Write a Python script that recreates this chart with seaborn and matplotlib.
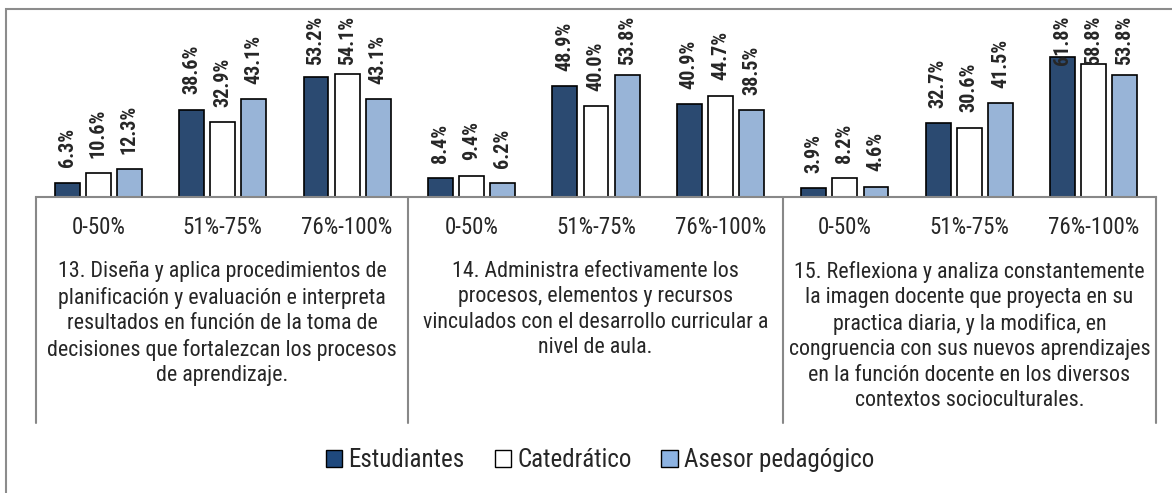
import pandas as pd
import seaborn as sns
from matplotlib import pyplot as plt
from matplotlib.lines import Line2D
from matplotlib.patches import Rectangle, Patch

# ---- data ----
groups = ['13. Diseña y aplica procedimientos de\nplanificación y evaluación e interpreta\nresultados en función de la toma de\ndecisiones que fortalezcan los procesos\nde aprendizaje.',
          '14. Administra efectivamente los\nprocesos, elementos y recursos\nvinculados con el desarrollo curricular a\nnivel de aula.',
          '15. Reflexiona y analiza constantemente\nla imagen docente que proyecta en su\npractica diaria, y la modifica, en\ncongruencia con sus nuevos aprendizajes\nen la función docente en los diversos\ncontextos socioculturales.']
ranges = ['0-50%', '51%-75%', '76%-100%']
series = ['Estudiantes', 'Catedrático', 'Asesor pedagógico']
estudiantes = [6.3, 38.6, 53.2, 8.4, 48.9, 40.9, 3.9, 32.7, 61.8]
catedratico = [10.6, 32.9, 54.1, 9.4, 40.0, 44.7, 8.2, 30.6, 58.8]
asesor = [12.3, 43.1, 43.1, 6.2, 53.8, 38.5, 4.6, 41.5, 53.8]
colors = ['#1F497D', '#FFFFFF', '#8DB3E2']

sns.set_style('white')
plt.rcParams['font.family'] = ['Roboto Condensed', 'DejaVu Sans']

keys = [str(g) + '|' + r for g in range(3) for r in ranges]
df = pd.DataFrame({'cat': keys * 3,
                   'serie': [s for s in series for _ in keys],
                   'valor': estudiantes + catedratico + asesor})

W, H = 1172, 493
fig = plt.figure(figsize=(W / 100, H / 100), dpi=100)
def fx(x): return x / W
def fy(y): return 1 - y / H

ax = fig.add_axes([fx(36), fy(197), fx(1156) - fx(36), fy(12) - fy(197)])
sns.barplot(data=df, x='cat', y='valor', hue='serie', order=keys, hue_order=series,
            palette=colors, width=0.75, gap=0.2, edgecolor='black', linewidth=1.2,
            ax=ax, legend=False)
ax.set_ylim(0, 185 / 2.265)
ax.set_xlim(-0.5, 8.5)
ax.set_xticks([]); ax.set_yticks([])
ax.set_xlabel(''); ax.set_ylabel('')
for s in ['top', 'left', 'right']:
    ax.spines[s].set_visible(False)
ax.spines['bottom'].set_color('#888888')
ax.spines['bottom'].set_linewidth(1.5)

# value labels, pushed down when they would leave the chart area
labs = []
for cont in ax.containers:
    for bar in cont:
        v = bar.get_height()
        t = ax.annotate(f'{v:.1f}%', (bar.get_x() + bar.get_width() / 2, v),
                        xytext=(0, 11), textcoords='offset points', rotation=90,
                        ha='center', va='bottom', fontsize=14.5, fontweight='bold')
        labs.append(t)
fig.canvas.draw()
r = fig.canvas.get_renderer()
for t in labs:
    bb = t.get_window_extent(r)
    lim = H - 16
    if bb.y1 > lim:
        t.xyann = (0, 11 - (bb.y1 - lim) * 0.72)

# outer frame and category table
fig.add_artist(Rectangle((fx(6), fy(520)), fx(1200) - fx(6), fy(9) - fy(520),
                         transform=fig.transFigure, fill=False, ec='#8C8C8C', lw=1.5))
bounds = [36, 408, 783, 1156]
for x in bounds:
    fig.add_artist(Line2D([fx(x), fx(x)], [fy(197), fy(423)], color='#888888', lw=1.5))
for i, k in enumerate(keys):
    xc = 36 + (i + 0.5) * (1156 - 36) / 9
    fig.text(fx(xc), fy(228), k.split('|')[1], ha='center', va='center', fontsize=16.5)
for g in range(3):
    fig.text(fx((bounds[g] + bounds[g + 1]) / 2), fy(261), groups[g], ha='center', va='top',
             fontsize=15.8, linespacing=1.27)

handles = [Patch(facecolor=c, edgecolor='black', lw=1) for c in colors]
fig.legend(handles, series, loc='center', bbox_to_anchor=(fx(600), fy(460)), ncol=3,
           frameon=False, fontsize=18, handlelength=0.65, handleheight=0.65,
           handletextpad=0.25, columnspacing=1.2)

plt.savefig('out.png', dpi=100)
